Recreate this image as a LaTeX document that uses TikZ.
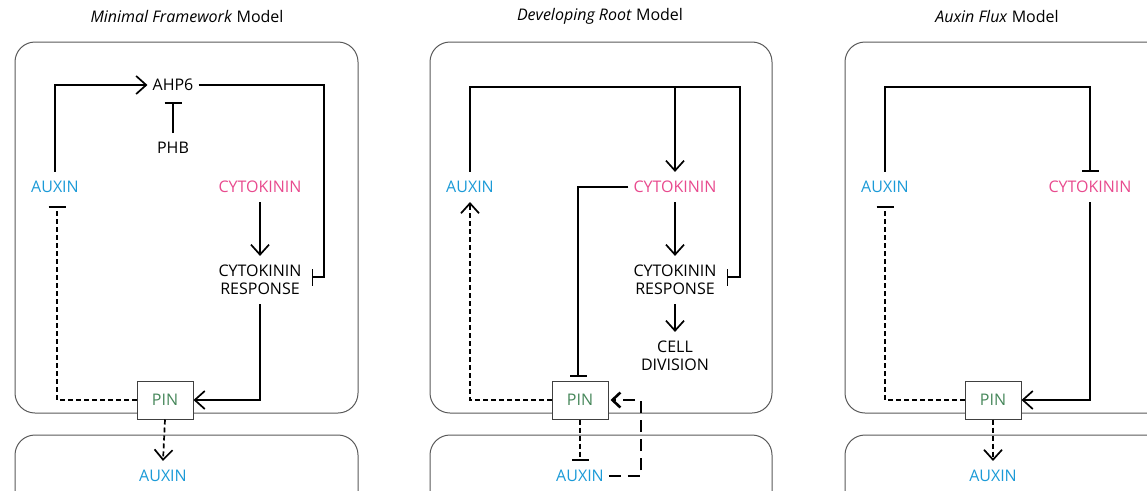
\documentclass[tikz,border=0pt]{standalone}
\usepackage{fontspec}
\setmainfont{Open Sans}
\usetikzlibrary{positioning, backgrounds, arrows.meta, calc}

\definecolor{auxinblue}{RGB}{27,154,215}
\definecolor{cytopink}{RGB}{232,74,142}
\definecolor{pingreen}{RGB}{70,135,90}

\begin{document}
\begin{tikzpicture}[%
    x=1pt, y=-1pt,
    font=\fontsize{16}{18}\selectfont,
    % Nodes
    txt/.style={inner xsep=5pt, inner ysep=9pt, align=center, text=black},
    auxin/.style={txt, text=auxinblue},
    cyto/.style={txt, text=cytopink},
    pinbox/.style={draw=black!75, fill=white, line width=1pt, minimum width=56pt, minimum height=38pt, text=pingreen},
    title/.style={font=\fontsize{16}{18}\selectfont, text=black},
    cell/.style={draw=black!65, line width=1pt, rounded corners=20pt},
    % Connectors
    act/.style={line width=1.7pt, -{Straight Barb[length=10pt,width=18pt]}},
    inh/.style={line width=1.7pt, -{Bar[width=17pt]}},
    actd/.style={act, dash pattern=on 5pt off 3pt},
    inhd/.style={inh, dash pattern=on 5pt off 3pt},
    actl/.style={line width=2.6pt, dash pattern=on 12pt off 7pt, -{Straight Barb[length=8pt,width=15pt]}}
]
\useasboundingbox (0,0) rectangle (1147,490);
\clip (0,0) rectangle (1147,490);

% --- 1. Minimal Framework Model ---
\node[title] (t1) at (187,16) {\textit{Minimal Framework} Model};
\node[txt] (ahp6) at (173,85) {AHP6};
\node[txt] (phb) at (173,148) {PHB};
\node[auxin] (aux1) at (55,187) {AUXIN};
\node[cyto] (cyt1) at (260,187) {CYTOKININ};
\node[txt] (resp1) at (260,280) {CYTOKININ\\RESPONSE};
\node[pinbox] (pin1) at (165,400) {PIN};
\node[auxin] (auxb1) at (163,476) {AUXIN};
\coordinate (k1) at (324,85);

\draw[act] (aux1.north) |- (ahp6.west);
\draw[inh] (phb.north) -- ($(ahp6.south)+(0,2)$);
\draw[inh] (ahp6.east) -- (k1) |- ($(resp1.east)+(5,-3)$);
\draw[act] (cyt1) -- (resp1);
\draw[act] (resp1.south) |- (pin1.east);
\draw[inhd] (pin1.west) -| ($(aux1.south)+(2,4)$);
\draw[actd] (pin1.south) -- (auxb1.north);

% --- 2. Developing Root Model ---
\node[title] (t2) at (600,16) {\textit{Developing Root} Model};
\node[auxin] (aux2) at (470,187) {AUXIN};
\node[cyto] (cyt2) at (675,187) {CYTOKININ};
\node[txt] (resp2) at (675,280) {CYTOKININ\\RESPONSE};
\node[txt] (div2) at (675,356) {CELL\\DIVISION};
\node[pinbox] (pin2) at (580,400) {PIN};
\node[auxin] (auxb2) at (580,476) {AUXIN};
\coordinate (k2) at (740,87);
\coordinate (k3) at (641,400);

\draw[inh] (aux2.north) |- (k2) |- ($(resp2.east)+(5,-3)$);
\draw[act] (cyt2.north |- k2) -- (cyt2.north);
\draw[inh] (cyt2.west) -| ($(pin2.north)+(-2,-4)$);
\draw[act] (cyt2) -- (resp2);
\draw[act] (resp2) -- (div2);
\draw[actd] (pin2.west) -| (aux2.south);
\draw[inhd] (pin2.south) -- (auxb2.north);
\draw[actl] (auxb2.east) -| (k3) -- ($(pin2.east)+(2,0)$);

% --- 3. Auxin Flux Model ---
\node[title] (t3) at (997,16) {\textit{Auxin Flux} Model};
\node[auxin] (aux3) at (885,187) {AUXIN};
\node[cyto] (cyt3) at (1090,187) {CYTOKININ};
\node[pinbox] (pin3) at (993,400) {PIN};
\node[auxin] (auxb3) at (993,476) {AUXIN};
\coordinate (k4) at (1090,87);

\draw[inh] (aux3.north) |- (k4) -- (cyt3.north);
\draw[act] (cyt3.south) |- (pin3.east);
\draw[inhd] (pin3.west) -| ($(aux3.south)+(0,4)$);
\draw[actd] (pin3.south) -- (auxb3.north);

% --- Cells ---
\begin{scope}[on background layer]
    \foreach \xa/\xb in {15/358, 430/772, 845/1188} {
        \draw[cell] (\xa,42) rectangle (\xb,413);
        \draw[cell] (\xa,435) rectangle (\xb,540);
    }
\end{scope}

\end{tikzpicture}
\end{document}
